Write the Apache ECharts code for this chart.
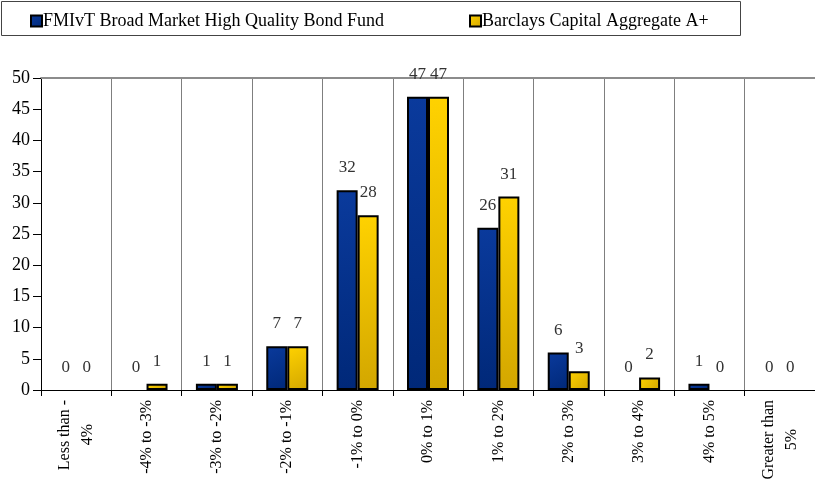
<!DOCTYPE html>
<html><head><meta charset="utf-8">
<script src="https://cdn.jsdelivr.net/npm/echarts@6/dist/echarts.min.js"></script>
<style>html,body{margin:0;padding:0;background:#fff}#c{width:815px;height:494px}</style>
</head><body><div id="c"></div>
<script>
var categories = ['Less than -\n4%', '-4% to -3%', '-3% to -2%', '-2% to -1%', '-1% to 0%', '0% to 1%', '1% to 2%', '2% to 3%', '3% to 4%', '4% to 5%', 'Greater than\n5%'];
var fundValues = [0, 0, 1, 7, 32, 47, 26, 6, 0, 1, 0];
var benchValues = [0, 1, 1, 7, 28, 47, 31, 3, 2, 0, 0];
var yTicks = [0, 5, 10, 15, 20, 25, 30, 35, 40, 45, 50];
var seriesNames = ['FMIvT Broad Market High Quality Bond Fund', 'Barclays Capital Aggregate A+'];

var FONT = '"Liberation Serif", "DejaVu Serif", serif';
var AX_FS = 16;

var mctx = document.createElement('canvas').getContext('2d');
mctx.font = AX_FS + 'px ' + FONT;
function tw(s) { return mctx.measureText(s).width; }

// multi-line category labels: centre each line via a rich token padding
var rich = {};
function fmtCat(v) {
  var lines = v.split('\n');
  if (lines.length === 1) return v;
  var w = Math.max.apply(null, lines.map(tw));
  return lines.map(function (l) {
    var p = Math.round((w - tw(l)) / 2);
    var key = 'p' + p;
    if (!rich[key]) rich[key] = {padding: [0, p, 0, 0], fontFamily: FONT, fontSize: AX_FS, color: '#000', lineHeight: 23};
    return '{' + key + '|' + l + '}';
  }).join('\n');
}
categories.forEach(fmtCat);

function toItems(arr) {
  return arr.map(function (v) {
    return v === 0 ? {value: v, itemStyle: {borderWidth: 0}} : v;
  });
}

var chart = echarts.init(document.getElementById('c'), null, {renderer: 'canvas'});
var blueGrad = new echarts.graphic.LinearGradient(0, 0, 1, 1, [{offset: 0, color: '#0a3a9c'}, {offset: 1, color: '#002878'}]);
var yellowGrad = new echarts.graphic.LinearGradient(0, 0, 1, 1, [{offset: 0, color: '#ffd200'}, {offset: 1, color: '#d2a600'}]);
var labelCfg = {show: true, position: 'top', distance: 14, color: '#333', fontFamily: FONT, fontSize: 17};
var legendText = {fontFamily: FONT, fontSize: 18, color: '#000', padding: [0, 0, 0, -4]};
chart.setOption({
  animation: false,
  textStyle: {fontFamily: FONT},
  graphic: [{type: 'rect', shape: {x: 1.5, y: 1.5, width: 739, height: 34}, style: {fill: 'none', stroke: '#444', lineWidth: 1}}],
  legend: [{
    left: 25, top: 7, itemWidth: 11, itemHeight: 11, icon: 'rect',
    data: [seriesNames[0]], textStyle: legendText
  }, {
    left: 464, top: 7, itemWidth: 11, itemHeight: 11, icon: 'rect',
    data: [seriesNames[1]], textStyle: legendText
  }],
  grid: {left: 41, right: -8, top: 78, bottom: 104, containLabel: false},
  xAxis: [{
    type: 'category', data: categories, boundaryGap: true,
    axisLine: {lineStyle: {color: '#000', width: 1}},
    axisTick: {show: true, interval: 0, length: 6, lineStyle: {color: '#000'}},
    axisLabel: {interval: 0, rotate: 90, fontFamily: FONT, fontSize: AX_FS, color: '#000', margin: 10, lineHeight: 23,
      formatter: fmtCat, rich: rich},
    splitLine: {show: true, interval: 0, showMinLine: false, showMaxLine: false, lineStyle: {color: '#7f7f7f', width: 1}}
  }, {
    type: 'category', data: categories, position: 'top',
    axisLine: {lineStyle: {color: '#8c8c8c', width: 2}},
    axisTick: {show: false}, axisLabel: {show: false}, splitLine: {show: false}
  }],
  yAxis: {
    type: 'value', min: 0, max: 50, interval: 5,
    axisLine: {show: true, lineStyle: {color: '#000'}},
    axisTick: {show: true, length: 8, inside: false, lineStyle: {color: '#000'}},
    axisLabel: {fontFamily: FONT, fontSize: 18, color: '#000', margin: 11,
      formatter: function (v) { return yTicks.indexOf(v) >= 0 ? String(v) : ''; }},
    splitLine: {show: false}
  },
  series: [{
    name: seriesNames[0], type: 'bar', data: toItems(fundValues), barWidth: 21, barGap: '0%',
    itemStyle: {color: blueGrad, borderColor: '#000', borderWidth: 2},
    label: labelCfg
  }, {
    name: seriesNames[1], type: 'bar', data: toItems(benchValues), barWidth: 21, barGap: '0%',
    itemStyle: {color: yellowGrad, borderColor: '#000', borderWidth: 2},
    label: labelCfg
  }]
});
</script></body></html>
